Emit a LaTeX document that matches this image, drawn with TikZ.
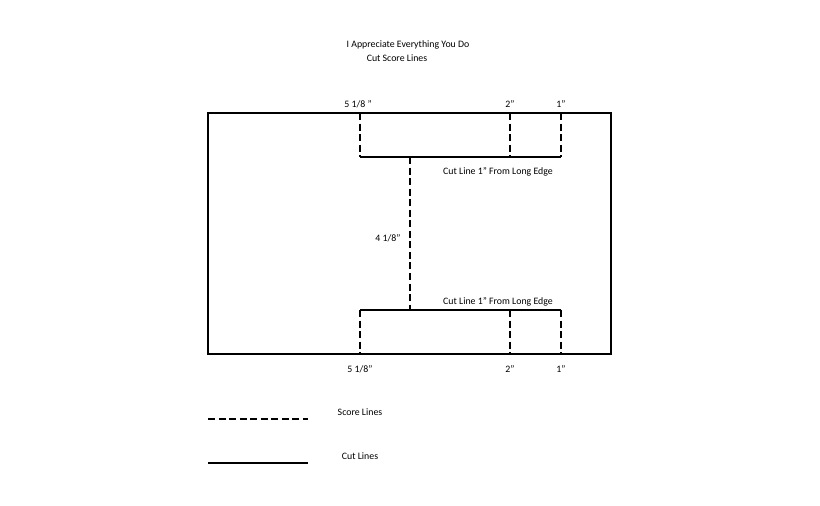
\documentclass[tikz,border=0pt]{standalone}
\usepackage{fontspec}
\setmainfont{Carlito}
\begin{document}
\begin{tikzpicture}[x=0.02cm,y=-0.02cm,
    lbl/.style={font=\fontsize{5.6}{6.6}\selectfont,inner sep=1pt},
    score/.style={dashed,dash pattern=on 4pt off 2pt,line width=0.8pt},
    cut/.style={line width=0.8pt}]
  \useasboundingbox (0,0) rectangle (820,505);
  \node[lbl] (title) at (408,45) {I Appreciate Everything You Do};
  \node[lbl] (sub) at (397,58) {Cut Score Lines};
  % outline
  \draw[cut] (208,113) rectangle (611,354);
  % top and bottom cut lines
  \coordinate (tl) at (360,157); \coordinate (tr) at (561,157);
  \coordinate (bl) at (360,310); \coordinate (br) at (561,310);
  \coordinate (tm) at (410,157); \coordinate (bm) at (410,310);
  \draw[cut] (tl) -- (tr);
  \draw[cut] (bl) -- (br);
  \draw[score] (tm) -- (bm);
  % score lines to the edges
  \foreach \x in {360,510,561}{
    \draw[score] (\x,113) -- (\x,157);
    \draw[score] (\x,310) -- (\x,354);
  }
  \node[lbl] (ta) at (358,104) {5 1/8 "};
  \node[lbl] (tb) at (510,104) {2"};
  \node[lbl] (tc) at (561,104) {1"};
  \node[lbl] (ba) at (360,369) {5 1/8"};
  \node[lbl] (bb) at (510,369) {2"};
  \node[lbl] (bc) at (561,369) {1"};
  \node[lbl] (mid) at (388,238) {4 1/8"};
  \node[lbl] (cuttop) at (498,172) {Cut Line 1" From Long Edge};
  \node[lbl] (cutbot) at (498,302) {Cut Line 1" From Long Edge};
  % legend
  \draw[score] (208,419) -- (308,419);
  \node[lbl] (lscore) at (360,412) {Score Lines};
  \draw[cut] (208,463) -- (308,463);
  \node[lbl] (lcut) at (360,456) {Cut Lines};
\end{tikzpicture}
\end{document}
